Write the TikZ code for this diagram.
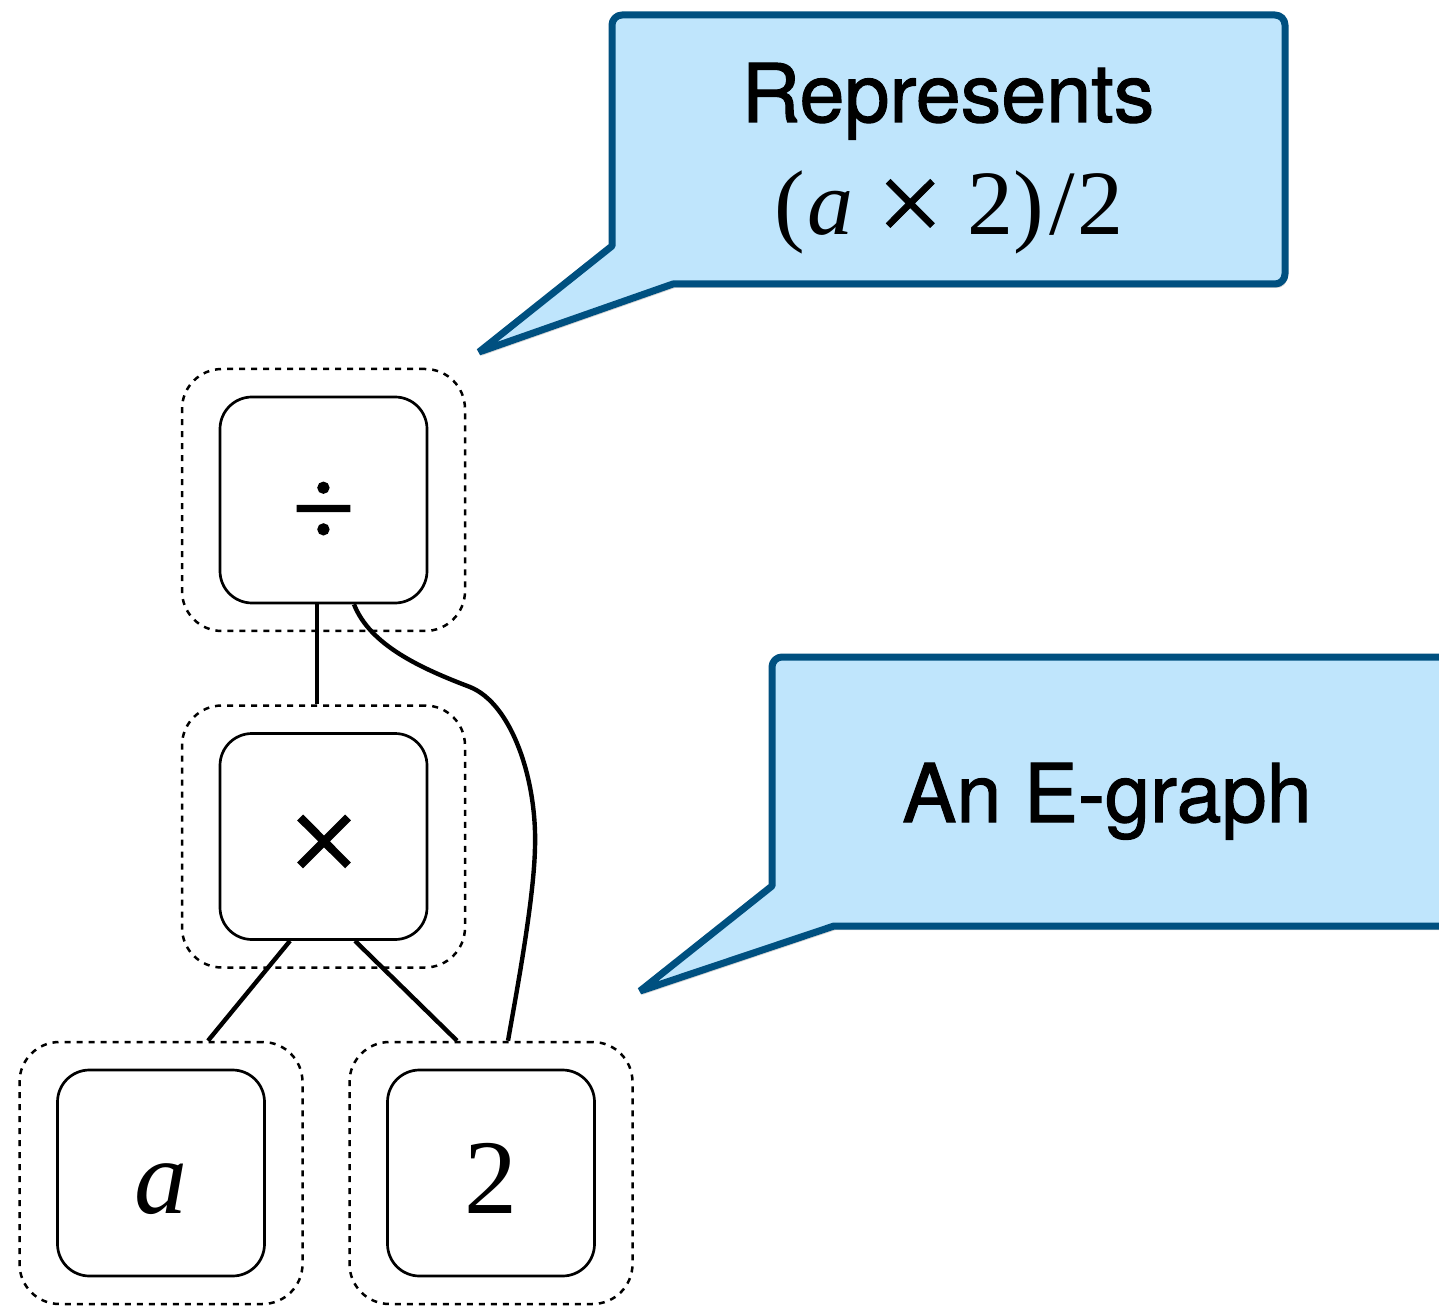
\documentclass[tikz,border=0pt]{standalone}
\usepackage{fontspec}
\usepackage{graphicx}
\usetikzlibrary{calc}
\newfontfamily\calloutfont[FakeBold=1.3]{TeX Gyre Heros}
\newfontfamily\glyphfont{Liberation Serif}
\newfontfamily\opfont[FakeBold=1.6]{Liberation Serif}
\newfontfamily\exprop[FakeBold=0.7]{Liberation Serif}
\definecolor{calloutblue}{RGB}{0,80,128}
\definecolor{calloutfill}{RGB}{191,229,252}
\tikzset{
  enode/.style={draw, line width=1.35pt, rounded corners=16pt,
    minimum width=103.5pt, minimum height=103pt, inner sep=0pt},
  eclass/.style={draw, dash pattern=on 3pt off 3pt, line width=1.25pt,
    rounded corners=20pt, minimum width=141.5pt, minimum height=131pt, inner sep=0pt},
  wire/.style={line width=2.2pt},
  callout/.style={draw=calloutblue, fill=calloutfill, line width=3.5pt, line join=bevel},
  calloutshadow/.style={fill=black, opacity=0.16},
  sym/.style={inner sep=0pt, font=\glyphfont\fontsize{53pt}{60pt}\selectfont},
  opsym/.style={inner sep=0pt, font=\opfont\fontsize{53pt}{60pt}\selectfont},
  bubbletext/.style={anchor=base, inner sep=0pt, font=\calloutfont\fontsize{40.5pt}{48pt}\selectfont},
}
\begin{document}
\begin{tikzpicture}[x=0.5pt, y=-0.5pt]
\useasboundingbox (0,0) rectangle (1439,1309);
\clip (0,0) rectangle (1439,1309);

% upper speech bubble
\fill[calloutshadow] (481,356) -- (614,250) -- (614,29) .. controls (614,23.5) and (618.5,19) .. (624,19)
  -- (1277,19) .. controls (1282.5,19) and (1287,23.5) .. (1287,29) -- (1287,278)
  .. controls (1287,283.5) and (1282.5,288) .. (1277,288) -- (675,288) -- cycle;
\draw[callout] (479,352) -- (612,246) -- (612,25) .. controls (612,19.5) and (616.5,15) .. (622,15)
  -- (1275,15) .. controls (1280.5,15) and (1285,19.5) .. (1285,25) -- (1285,274)
  .. controls (1285,279.5) and (1280.5,284) .. (1275,284) -- (673,284) -- cycle;
\node[bubbletext] (rep) at (948,122) {Represents};
\node[anchor=base, inner sep=0pt, font=\glyphfont\fontsize{46pt}{52pt}\selectfont] (expr) at (949,235)
  {(\kern1pt\textit{a}\hspace{12pt}\raisebox{-3.8pt}{\scalebox{1.28}{\exprop ×}}\hspace{12pt}2)\kern2.5pt/\kern1.5pt2};

% lower speech bubble
\fill[calloutshadow] (642,995) -- (774,890) -- (774,671) .. controls (774,665.5) and (778.5,661) .. (784,661)
  -- (1480,661) -- (1480,930) -- (836,930) -- cycle;
\draw[callout] (640,991) -- (772,886) -- (772,667) .. controls (772,661.5) and (776.5,657) .. (782,657)
  -- (1470,657) -- (1470,926) -- (834,926) -- cycle;
\node[bubbletext] (eg) at (1107,822) {An E-graph};

% e-classes (dashed) and e-nodes
\node[eclass] (divc) at (323.5,500) {};
\node[enode]  (div)  at (323.5,500) {};
\node[opsym] (divs) at (323.5,514) {\scalebox{1.05}{÷}};

\node[eclass] (mulc) at (323.5,836.5) {};
\node[enode]  (mul)  at (323.5,836.5) {};
\node[opsym] (muls) at (324,849.5) {\scalebox{1.18}{×}};

\node[eclass] (ac) at (161,1173) {};
\node[enode]  (a)  at (161,1173) {};
\node[sym, anchor=base] (as) at (161,1213) {\textit{a}};

\node[eclass] (twoc) at (491,1173) {};
\node[enode]  (two)  at (491,1173) {};
\node[sym, anchor=base] (twos) at (491,1213) {2};

% edges from e-nodes to e-classes
\draw[wire] ($(div.south)+(-6.5,0)$) -- ($(mulc.north)+(-6.5,0)$);
\draw[wire] ($(div.south)+(30.5,0)$) .. controls (370,645) and (420,668) .. (470,687)
  .. controls (512,704) and (537,780) .. (535,847)
  .. controls (534,900) and (516,995) .. ($(twoc.north)+(17,0)$);
\draw[wire] ($(mul.south)+(-33.5,0)$) -- ($(ac.north)+(47,0)$);
\draw[wire] ($(mul.south)+(31.5,0)$) -- ($(twoc.north)+(-34,0)$);
\end{tikzpicture}
\end{document}
